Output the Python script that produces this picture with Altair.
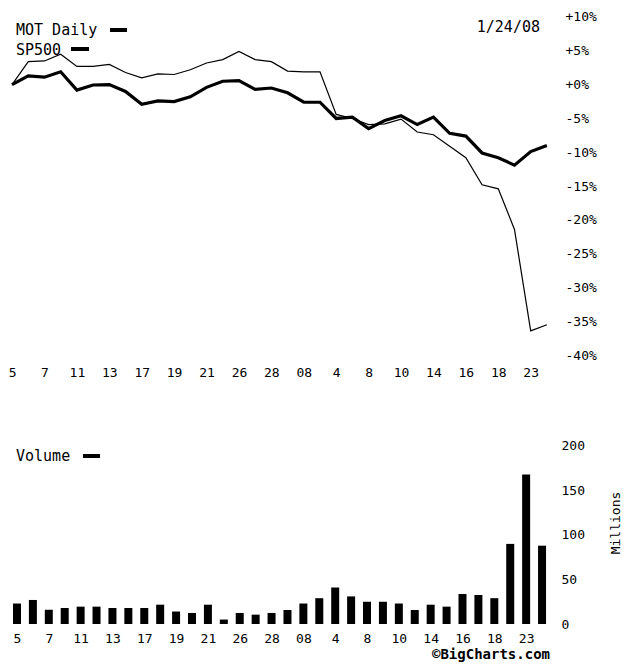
import json
import altair as alt
import pandas as pd

# ---- data ----
dates = ["2007-12-05", "2007-12-06", "2007-12-07", "2007-12-10", "2007-12-11", "2007-12-12",
         "2007-12-13", "2007-12-14", "2007-12-17", "2007-12-18", "2007-12-19", "2007-12-20",
         "2007-12-21", "2007-12-24", "2007-12-26", "2007-12-27", "2007-12-28", "2007-12-31",
         "2008-01-02", "2008-01-03", "2008-01-04", "2008-01-07", "2008-01-08", "2008-01-09",
         "2008-01-10", "2008-01-11", "2008-01-14", "2008-01-15", "2008-01-16", "2008-01-17",
         "2008-01-18", "2008-01-22", "2008-01-23", "2008-01-24"]
tick_labels = ["5", "7", "11", "13", "17", "19", "21", "26", "28", "08", "4", "8", "10", "14", "16", "18", "23"]

mot_pct = [0, 3.4, 3.5, 4.5, 2.7, 2.7, 3.0, 1.8, 1.0, 1.6, 1.5, 2.2, 3.2, 3.7, 4.9, 3.7, 3.4,
           2.0, 1.9, 1.9, -4.4, -5.0, -5.9, -5.8, -5.1, -7.0, -7.4, -9.1, -10.8, -14.8, -15.4,
           -21.4, -36.4, -35.5]
sp500_pct = [0, 1.3, 1.1, 1.9, -0.8, -0.05, 0, -1.0, -2.9, -2.4, -2.5, -1.8, -0.4, 0.5, 0.6,
             -0.7, -0.5, -1.2, -2.6, -2.6, -5.0, -4.8, -6.5, -5.3, -4.6, -5.9, -4.8, -7.2, -7.6,
             -10.1, -10.8, -11.9, -9.9, -9.0]
volume_m = [23, 27, 16, 18, 19.5, 19.5, 18, 18, 18, 21.7, 14, 12.4, 21.7, 5, 12.4, 10.5, 12.4,
            15.7, 23, 29, 41, 31, 25, 25, 23, 15.7, 21.7, 19.5, 33.7, 32.6, 29, 90, 168, 88]

pct_ticks = [10, 5, 0, -5, -10, -15, -20, -25, -30, -35, -40]
vol_ticks = [0, 50, 100, 150, 200]

FONT = "DejaVu Sans Mono"
FS = 13

idx = list(range(len(dates)))
df_mot = pd.DataFrame({"i": idx, "pct": mot_pct, "date": dates})
df_sp = pd.DataFrame({"i": idx, "pct": sp500_pct, "date": dates})
df_vol = pd.DataFrame({"i": idx, "vol": volume_m, "date": dates})
one = pd.DataFrame({"k": [0]})

label_expr = json.dumps(tick_labels) + "[round(datum.value/2)]"
xscale = alt.Scale(domain=[-0.25, 33.5], nice=False, zero=False)


def xaxis(pad):
    return alt.Axis(values=list(range(0, 33, 2)), labelExpr=label_expr, domain=False,
                    ticks=False, grid=False, title=None, labelPadding=pad, labelFont=FONT,
                    labelFontSize=FS, labelColor="black", labelFlush=False, labelBaseline="top",
                    labelOverlap=False)


def txt(s, x, y, align="left", size=FS, weight="normal", angle=0):
    return alt.Chart(pd.DataFrame({"t": [s]})).mark_text(
        align=align, baseline="middle", font=FONT, fontSize=size, fontWeight=weight,
        color="black", angle=angle
    ).encode(x=alt.value(x), y=alt.value(y), text="t:N")


def marker(x1, x2, y):
    return alt.Chart(one).mark_rule(color="black", strokeWidth=4).encode(
        x=alt.value(x1), x2=alt.value(x2), y=alt.value(y))


yscale_top = alt.Scale(domain=[-41, 11.33], nice=False, zero=False)
yaxis_top = alt.Axis(orient="right", values=pct_ticks,
                     labelExpr="(datum.value>=0?'+':'')+datum.value+'%'",
                     domain=False, ticks=False, grid=False, title=None, labelPadding=10,
                     labelFont=FONT, labelFontSize=FS, labelColor="black", labelFlush=False,
                     labelOverlap=False)
xaxis_top = xaxis(4)

mot_line = alt.Chart(df_mot).mark_line(color="black", strokeWidth=1.2).encode(
    x=alt.X("i:Q", scale=xscale, axis=xaxis_top),
    y=alt.Y("pct:Q", scale=yscale_top, axis=yaxis_top))
sp_line = alt.Chart(df_sp).mark_line(color="black", strokeWidth=3.2).encode(
    x=alt.X("i:Q", scale=xscale, axis=xaxis_top),
    y=alt.Y("pct:Q", scale=yscale_top, axis=yaxis_top))

top = alt.layer(
    mot_line, sp_line,
    txt("MOT Daily", 8, 22, size=15), marker(102, 119, 22),
    txt("SP500", 8, 42, size=15), marker(63, 81, 41),
    txt("1/24/08", 532, 19, align="right", size=15),
).properties(width=547, height=354)

yscale_vol = alt.Scale(domain=[0, 205.6], nice=False, zero=True)
yaxis_vol = alt.Axis(orient="right", values=vol_ticks, domain=False, ticks=False, grid=False,
                     title=None, labelPadding=6, labelFont=FONT, labelFontSize=FS,
                     labelColor="black", labelFlush=False, labelOverlap=False)

bars = alt.Chart(df_vol).mark_bar(color="black", size=8).encode(
    x=alt.X("i:Q", scale=xscale, axis=xaxis(8)),
    y=alt.Y("vol:Q", scale=yscale_vol, axis=yaxis_vol))

bottom = alt.layer(
    bars,
    txt("Volume", 8, 15, size=15), marker(75, 92, 15),
    txt("Millions", 608, 82, align="center", size=13, angle=270),
    txt("\u00a9BigCharts.com", 542, 214, align="right", size=14, weight="bold"),
).properties(width=547, height=183)

chart = alt.vconcat(top, bottom, spacing=79, bounds="flush").properties(
    padding={"left": -3, "top": 0, "right": 0, "bottom": 0}
).configure(background="white").configure_view(stroke=None)

chart.save("out.html", embed_options={"renderer": "svg", "actions": False})
